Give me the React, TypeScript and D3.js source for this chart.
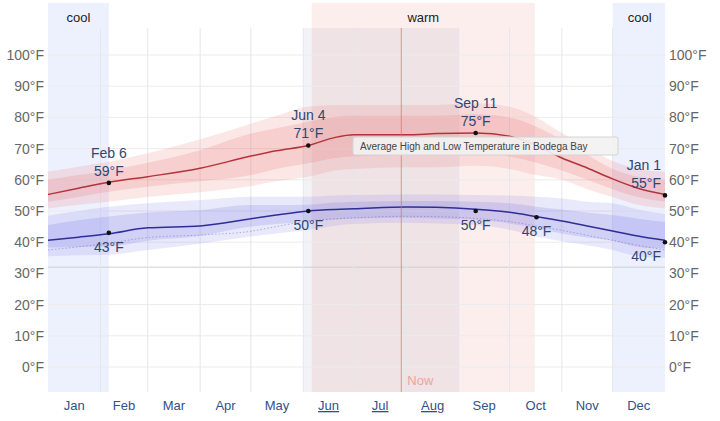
import React from "react";
import * as d3 from "d3";

const months = ["Jan", "Feb", "Mar", "Apr", "May", "Jun", "Jul", "Aug", "Sep", "Oct", "Nov", "Dec"];
const monthStarts = [0, 31, 59, 90, 120, 151, 181, 212, 243, 273, 304, 334, 365];
const linkedMonths = ["Jun", "Jul", "Aug"];
const yTicks = [0, 10, 20, 30, 40, 50, 60, 70, 80, 90, 100];
const gridTicks = [0, 10, 20, 40, 50, 60, 70, 80, 90, 100];

const days = [0, 18, 36, 59, 90, 120, 135, 154, 170, 181, 212, 230, 253, 273, 289, 304, 319, 334, 349, 365];
const high = [55.3, 57.3, 59.2, 61.0, 63.7, 67.6, 69.3, 71.0, 73.6, 74.4, 74.4, 74.8, 75.0, 74.0, 71.0, 67.0, 63.8, 60.3, 57.3, 55.3];
const high10 = [50.8, 52.0, 53.0, 54.5, 56.0, 58.0, 59.5, 61.0, 63.0, 63.5, 64.0, 64.0, 64.5, 63.5, 61.5, 60.0, 57.0, 54.5, 52.0, 50.8];
const high25 = [53.0, 54.5, 56.2, 57.8, 59.5, 61.5, 63.5, 65.3, 67.0, 67.5, 68.0, 68.0, 68.5, 67.5, 65.5, 63.0, 60.0, 57.0, 54.5, 53.0];
const high75 = [60.0, 61.5, 63.0, 65.5, 69.5, 74.8, 76.5, 78.6, 80.2, 80.5, 80.5, 80.5, 81.0, 80.0, 77.0, 72.8, 68.0, 63.5, 61.0, 60.0];
const high90 = [62.6, 64.2, 65.8, 68.5, 73.0, 78.0, 80.5, 83.5, 84.0, 84.0, 84.0, 84.0, 84.5, 83.4, 80.0, 75.0, 70.5, 66.0, 63.5, 62.6];
const low = [40.6, 41.6, 42.7, 44.6, 45.2, 47.5, 48.7, 50.0, 50.5, 50.7, 51.3, 51.2, 50.6, 49.6, 48.2, 46.8, 45.2, 43.6, 42.0, 40.6];
const low10 = [35.5, 35.8, 36.0, 37.5, 39.5, 41.8, 42.8, 43.9, 45.3, 45.8, 46.2, 46.0, 45.5, 44.0, 41.8, 40.3, 39.0, 37.5, 35.5, 35.0];
const low25 = [38.3, 38.5, 38.6, 40.5, 42.0, 45.0, 45.8, 46.6, 47.3, 47.6, 47.8, 47.6, 47.2, 46.0, 44.4, 42.8, 41.5, 40.5, 38.5, 38.0];
const low75 = [45.5, 47.0, 48.2, 49.5, 50.3, 51.9, 51.9, 52.0, 52.7, 53.0, 53.2, 53.2, 53.0, 52.5, 51.4, 50.5, 49.5, 48.7, 47.5, 46.5];
const low90 = [48.5, 50.0, 51.4, 52.5, 53.5, 54.6, 54.6, 54.6, 55.0, 55.1, 55.3, 55.3, 55.1, 55.0, 54.6, 54.0, 53.0, 52.5, 50.5, 49.0];
const lowFeel = [37.5, 38.5, 39.7, 41.5, 42.3, 43.5, 45.0, 46.8, 47.5, 47.8, 48.3, 48.2, 47.6, 46.6, 45.2, 43.8, 42.2, 40.6, 39.0, 37.5];

const highMarks = [
  { day: 36, value: 59, date: "Feb 6" },
  { day: 154, value: 71, date: "Jun 4" },
  { day: 253, value: 75, date: "Sep 11" },
  { day: 365, value: 55, date: "Jan 1" },
];
const lowMarks = [
  { day: 36, value: 43 },
  { day: 154, value: 50 },
  { day: 253, value: 50 },
  { day: 289, value: 48 },
  { day: 365, value: 40 },
];
const coolSeasons = [[0, 36], [334, 365]];
const warmSeason = [156, 288];
const summerSpan = [151, 243];
const nowDay = 209;

const W = 720, H = 421;
const x = d3.scaleLinear().domain([0, 365]).range([48, 665]);
const y = d3.scaleLinear().domain([0, 100]).range([367, 55]);
const FONT = "'Liberation Sans', Arial, Helvetica, sans-serif";

function band(lo: number[], hi: number[]) {
  return d3.area<number>()
    .x((_, i) => x(days[i]))
    .y0((_, i) => y(lo[i]))
    .y1((_, i) => y(hi[i]))
    .curve(d3.curveMonotoneX)(days) as string;
}
function line(vals: number[]) {
  return d3.line<number>()
    .x((_, i) => x(days[i]))
    .y((_, i) => y(vals[i]))
    .curve(d3.curveMonotoneX)(days) as string;
}

export default function App() {
  const top = 3, gTop = 28, bottom = 392;
  const annColor = "#2f4670";
  return (
    <svg width={W} height={H} style={{ position: "absolute", left: 0, top: 0, fontFamily: FONT }}>
      <rect width={W} height={H} fill="#fff" />
      {coolSeasons.map(([a, b], i) => (
        <rect key={"c" + i} x={x(a)} y={top} width={x(b) - x(a)} height={bottom - top} fill="#edf0fd" />
      ))}
      <rect x={x(warmSeason[0])} y={top} width={x(warmSeason[1]) - x(warmSeason[0])} height={bottom - top} fill="#fdeeee" />
      <rect x={x(summerSpan[0])} y={gTop} width={x(summerSpan[1]) - x(summerSpan[0])} height={bottom - gTop} fill="rgba(70,80,130,0.07)" />
      <text x={x(18)} y={22} textAnchor="middle" fontSize={13} fill="#222">cool</text>
      <text x={x(350)} y={22} textAnchor="middle" fontSize={13} fill="#222">cool</text>
      <text x={x((warmSeason[0] + warmSeason[1]) / 2)} y={22} textAnchor="middle" fontSize={13} fill="#222">warm</text>

      {gridTicks.map((t) => (
        <line key={"h" + t} x1={48} x2={665} y1={y(t)} y2={y(t)} stroke="#ececec" strokeWidth={1} />
      ))}
      <line x1={48} x2={665} y1={y(32)} y2={y(32)} stroke="#cfcfcf" strokeWidth={1} />
      {monthStarts.slice(1, 12).map((d) => (
        <line key={"v" + d} x1={x(d)} x2={x(d)} y1={gTop} y2={bottom} stroke="#e6e6ec" strokeWidth={1} />
      ))}

      <path d={band(high10, high90)} fill="rgba(240,120,120,0.18)" />
      <path d={band(high25, high75)} fill="rgba(230,100,100,0.18)" />
      <path d={band(low10, low90)} fill="rgba(120,120,235,0.16)" />
      <path d={band(low25, low75)} fill="rgba(105,105,225,0.19)" />
      <path d={line(lowFeel)} fill="none" stroke="rgba(80,80,190,0.4)" strokeWidth={1} strokeDasharray="1.5,2" />
      <path d={line(high)} fill="none" stroke="#b3333a" strokeWidth={1.5} />
      <path d={line(low)} fill="none" stroke="#2e2e96" strokeWidth={1.5} />

      <line x1={x(nowDay)} x2={x(nowDay)} y1={gTop} y2={bottom} stroke="rgba(215,110,110,0.7)" strokeWidth={1} />
      <text x={x(nowDay) + 19} y={385} textAnchor="middle" fontSize={13} fill="#f0a0a0">Now</text>

      {highMarks.map((m) => {
        const anchor = m.day === 365 ? "end" : "middle";
        const tx = m.day === 365 ? x(m.day) - 4 : x(m.day);
        return (
          <g key={"hm" + m.date}>
            <circle cx={x(m.day)} cy={y(m.value)} r={2.3} fill="#111" />
            <text x={tx} y={y(m.value) - 25} textAnchor={anchor} fontSize={14} fill={annColor}>{m.date}</text>
            <text x={tx} y={y(m.value) - 7} textAnchor={anchor} fontSize={14} fill={annColor}>{m.value}°F</text>
          </g>
        );
      })}
      {lowMarks.map((m) => {
        const anchor = m.day === 365 ? "end" : "middle";
        const tx = m.day === 365 ? x(m.day) - 4 : x(m.day);
        return (
          <g key={"lm" + m.day}>
            <circle cx={x(m.day)} cy={y(m.value)} r={2.3} fill="#111" />
            <text x={tx} y={y(m.value) + 19} textAnchor={anchor} fontSize={14} fill={annColor}>{m.value}°F</text>
          </g>
        );
      })}

      <rect x={353} y={137} width={265} height={18} rx={2} fill="rgba(242,242,242,0.92)" stroke="#d4d4d4" />
      <text x={360} y={150} fontSize={10} fill="#444">Average High and Low Temperature in Bodega Bay</text>

      {yTicks.map((t) => (
        <g key={"yt" + t}>
          <text x={44} y={y(t) + 5} textAnchor="end" fontSize={14} fill="#666">{t}°F</text>
          <text x={669} y={y(t) + 5} textAnchor="start" fontSize={14} fill="#666">{t}°F</text>
        </g>
      ))}
      {months.map((m, i) => (
        <text key={m} x={x((monthStarts[i] + monthStarts[i + 1]) / 2)} y={410} textAnchor="middle" fontSize={13}
          fill="#34508a" textDecoration={linkedMonths.includes(m) ? "underline" : undefined}>{m}</text>
      ))}
    </svg>
  );
}
